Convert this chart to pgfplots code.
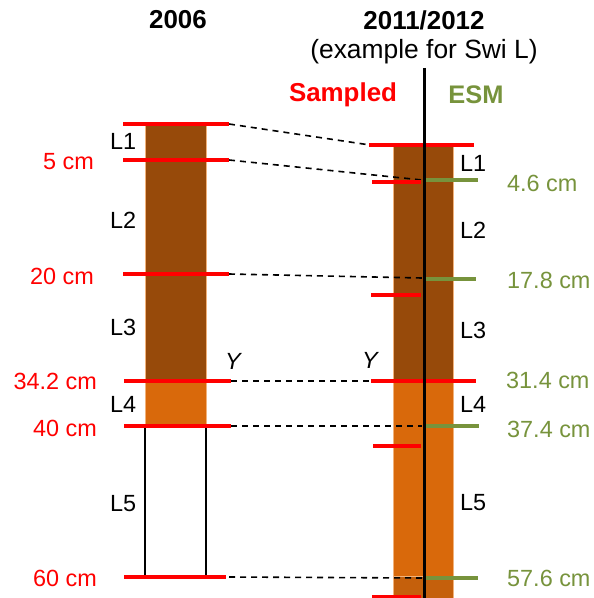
\documentclass[border=0pt]{standalone}
\usepackage{pgfplots}
\pgfplotsset{compat=1.18}
\usepackage{fontspec}
\setmainfont{Liberation Sans}
\definecolor{dbrown}{HTML}{974A0A}
\definecolor{lorange}{HTML}{D9690B}
\definecolor{dorange}{HTML}{C5600C}
\definecolor{esm}{HTML}{77933C}
\definecolor{edge}{HTML}{F2B27A}
\begin{document}
\begin{tikzpicture}
\begin{axis}[width=594bp,height=598bp,scale only axis,hide axis,
  xmin=0,xmax=594,ymin=0,ymax=598,y dir=reverse,clip=false]
% ---- left column (2006)
\addplot[fill=dbrown,draw=edge,line width=0.6bp] coordinates {(145,124) (206,124) (206,381) (145,381) (145,124)};
\addplot[fill=lorange,draw=edge,line width=0.6bp] coordinates {(145,381) (206,381) (206,426) (145,426) (145,381)};
\addplot[black,line width=1.5bp] coordinates {(145,426) (145,577)};
\addplot[black,line width=1.5bp] coordinates {(206,426) (206,577)};
% ---- right column (2011/2012)
\addplot[fill=dbrown,draw=edge,line width=0.6bp] coordinates {(393,145) (453,145) (453,381) (393,381) (393,145)};
\addplot[fill=lorange,draw=edge,line width=0.6bp] coordinates {(393,381) (453,381) (453,576) (393,576) (393,381)};
\addplot[fill=dorange,draw=edge,line width=0.6bp] coordinates {(393,576) (453,576) (453,598) (393,598) (393,576)};
% ---- dashed connectors
\addplot[black,line width=1.6bp,dash pattern=on 6bp off 5bp] coordinates {(229,124) (370,145)};
\addplot[black,line width=1.6bp,dash pattern=on 6bp off 5bp] coordinates {(229,160) (422,180)};
\addplot[black,line width=1.6bp,dash pattern=on 6bp off 5bp] coordinates {(229,274) (422,278)};
\addplot[black,line width=1.6bp,dash pattern=on 6bp off 5bp] coordinates {(231,381) (371,381)};
\addplot[black,line width=1.6bp,dash pattern=on 6bp off 5bp] coordinates {(231,426) (422,426)};
\addplot[black,line width=1.6bp,dash pattern=on 6bp off 5bp] coordinates {(229,577) (422,578)};
% ---- red lines left
\addplot[red,line width=3.5bp] coordinates {(123,124) (229,124)};
\addplot[red,line width=3.5bp] coordinates {(123,160) (229,160)};
\addplot[red,line width=3.5bp] coordinates {(123,274) (229,274)};
\addplot[red,line width=3.5bp] coordinates {(124,381) (231,381)};
\addplot[red,line width=3.5bp] coordinates {(124,426) (231,426)};
\addplot[red,line width=3.5bp] coordinates {(124,577) (226,577)};
% ---- red lines right
\addplot[red,line width=3.5bp] coordinates {(369,145) (474,145)};
\addplot[red,line width=3.5bp] coordinates {(372,182) (421,182)};
\addplot[red,line width=3.5bp] coordinates {(371,295) (421,295)};
\addplot[red,line width=3.5bp] coordinates {(371,381) (476,381)};
\addplot[red,line width=3.5bp] coordinates {(373,446) (421,446)};
\addplot[red,line width=3.5bp] coordinates {(372,597) (421,597)};
% ---- green lines right
\addplot[esm,line width=3.5bp] coordinates {(425,180) (478,180)};
\addplot[esm,line width=3.5bp] coordinates {(425,279) (476,279)};
\addplot[esm,line width=3.5bp] coordinates {(425,426) (479,426)};
\addplot[esm,line width=3.5bp] coordinates {(425,578) (478,578)};
% ---- black vertical line
\addplot[black,line width=3bp] coordinates {(424,68) (424,598)};
% ---- titles
\node[font=\fontsize{26}{30}\selectfont\bfseries] at (axis cs:178,20) {2006};
\node[font=\fontsize{26}{30}\selectfont\bfseries] at (axis cs:424,20) {2011/2012};
\node[font=\fontsize{26.5}{30}\selectfont] at (axis cs:424,52) {(example for Swi L)};
\node[font=\fontsize{26}{30}\selectfont\bfseries,text=red] at (axis cs:343,95) {Sampled};
\node[font=\fontsize{25.5}{30}\selectfont\bfseries,text=esm] at (axis cs:476,95) {ESM};
% ---- labels
\begin{scope}[every node/.style={font=\fontsize{23.5}{28}\selectfont,inner sep=0pt}]
\node[anchor=west] at (axis cs:110,141) {L1};
\node[anchor=west] at (axis cs:110,220) {L2};
\node[anchor=west] at (axis cs:110,327) {L3};
\node[anchor=west] at (axis cs:110,404) {L4};
\node[anchor=west] at (axis cs:110,504) {L5};
\node[anchor=east,text=red] at (axis cs:94,162) {5 cm};
\node[anchor=east,text=red] at (axis cs:94,276) {20 cm};
\node[anchor=east,text=red] at (axis cs:97,381) {34.2 cm};
\node[anchor=east,text=red] at (axis cs:97,428) {40 cm};
\node[anchor=east,text=red] at (axis cs:97,578) {60 cm};
\node[font=\fontsize{23.5}{28}\selectfont\itshape] at (axis cs:233,361) {Y};
\node[font=\fontsize{23.5}{28}\selectfont\itshape] at (axis cs:370,360) {Y};
\node[anchor=west] at (axis cs:460,163) {L1};
\node[anchor=west] at (axis cs:460,230) {L2};
\node[anchor=west] at (axis cs:460,330) {L3};
\node[anchor=west] at (axis cs:460,404) {L4};
\node[anchor=west] at (axis cs:460,503) {L5};
\node[anchor=west,text=esm] at (axis cs:507,183) {4.6 cm};
\node[anchor=west,text=esm] at (axis cs:507,280) {17.8 cm};
\node[anchor=west,text=esm] at (axis cs:506,380) {31.4 cm};
\node[anchor=west,text=esm] at (axis cs:507,429) {37.4 cm};
\node[anchor=west,text=esm] at (axis cs:507,578) {57.6 cm};
\end{scope}
\end{axis}
\pgfresetboundingbox
\path (current axis.south west) rectangle (current axis.north east);
\end{tikzpicture}
\end{document}
